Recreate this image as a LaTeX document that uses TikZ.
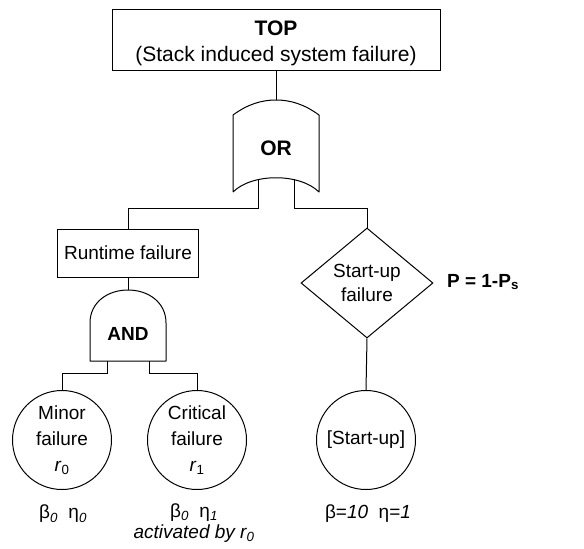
\documentclass[tikz,border=0pt]{standalone}
\usepackage{fontspec}
\setmainfont{Liberation Sans}
\usetikzlibrary{shapes.geometric}

\begin{document}
\begin{tikzpicture}[x=1pt,y=-1pt]
\tikzset{
  eventbox/.style={rectangle,draw=black,line width=1pt,align=center,inner sep=0pt,font=\fontsize{19}{26}\selectfont},
  basicevent/.style={circle,draw=black,line width=1pt,minimum size=99pt,inner sep=0pt,align=center,font=\fontsize{19}{26}\selectfont},
  undevent/.style={diamond,draw=black,line width=1pt,minimum width=132pt,minimum height=110pt,inner sep=0pt,aspect=1.2,align=center,font=\fontsize{19}{24}\selectfont},
  gateshape/.style={draw=black,line width=1pt,line join=round},
  gatelabel/.style={font=\fontsize{19}{24}\selectfont\bfseries},
  paramlabel/.style={align=center,font=\fontsize{19}{21}\selectfont},
  treeedge/.style={draw=black,line width=1pt}
}
\useasboundingbox (0,0) rectangle (584,549);
% events
\node[eventbox,minimum width=328pt,minimum height=61pt,
  label={[align=center,yshift=-3pt,font=\fontsize{21}{26}\selectfont]center:\textbf{TOP}\\(Stack induced system failure)}]
  (n_top) at (276,40) {};
\node[eventbox,minimum width=141pt,minimum height=48pt] (n_runtime) at (128,253) {Runtime failure};
\node[undevent] (n_startupfail) at (367,283) {Start-up\\failure};
\node[basicevent] (n_minor) at (62,440) {Minor\\failure\\\textit{r}\textsubscript{0}};
\node[basicevent] (n_critical) at (197,440) {Critical\\failure\\\textit{r}\textsubscript{1}};
\node[basicevent] (n_startup) at (366,440) {[Start-up]};
% gates
\draw[gateshape] (233,192) -- (233,115) .. controls (248,104) and (262,100) .. (276,100)
  .. controls (290,100) and (304,104) .. (319,115) -- (319,192)
  .. controls (300,173) and (252,173) .. (233,192);
\node[gatelabel,font=\fontsize{21}{24}\selectfont\bfseries] (n_or) at (276,148) {OR};
\draw[gateshape] (90,361) -- (90,323) .. controls (90,302) and (108,290) .. (128,290)
  .. controls (148,290) and (166,302) .. (166,323) -- (166,361) -- cycle;
\node[gatelabel] (n_and) at (128,334) {AND};
\coordinate (or_in) at (276,100);
\coordinate (or_l) at (258,179);
\coordinate (or_r) at (294,179);
\coordinate (and_in) at (128,290);
\coordinate (and_l) at (107,361);
\coordinate (and_r) at (149,361);
% connectors
\draw[treeedge] (n_top.south) -- (or_in);
\draw[treeedge] (or_l) -- ++(0,29) -| (n_runtime.north);
\draw[treeedge] (or_r) -- ++(0,29) -| (n_startupfail.north);
\draw[treeedge] (n_runtime.south) -- (and_in);
\draw[treeedge] (and_l) -- ++(0,12) -| (n_minor.north);
\draw[treeedge] (and_r) -- ++(0,12) -| (n_critical.north);
\draw[treeedge] (n_startupfail.south) -- (n_startup.north);
% parameters
\node[paramlabel,font=\fontsize{19}{21}\selectfont\bfseries] (n_prob) at (483,282) {P = 1-P\textsubscript{s}};
\node[paramlabel] (n_minorpar) at (63,514) {β\textsubscript{\itshape 0}\ \ η\textsubscript{\itshape 0}};
\node[paramlabel] (n_criticalpar) at (194,523) {β\textsubscript{\itshape 0}\ \ η\textsubscript{\itshape 1}\\\textit{activated by r\textsubscript{0}}};
\node[paramlabel] (n_startuppar) at (368,514) {β=\textit{10}\ \ η=\textit{1}};
\end{tikzpicture}
\end{document}
